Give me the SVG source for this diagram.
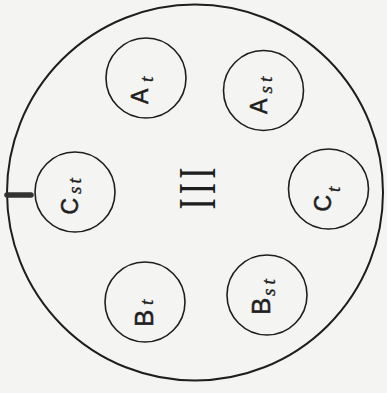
<svg xmlns="http://www.w3.org/2000/svg" width="387" height="393" viewBox="0 0 387 393">
<style>
.ring{fill:none;stroke:#1e1e1e;stroke-width:1.6}
.outer{fill:none;stroke:#1e1e1e;stroke-width:2}
.big{font-family:"Liberation Sans",Arial,sans-serif;fill:#1e1e1e;stroke:#1e1e1e;stroke-width:0.5}
.sub{font-family:"Liberation Serif","Times New Roman",serif;font-style:italic;font-size:19px;fill:#1e1e1e;stroke:#1e1e1e;stroke-width:0.4}
.roman{font-family:"Liberation Serif","Times New Roman",serif;font-size:34px;fill:#1e1e1e}
</style>
<rect x="0" y="0" width="387" height="393" fill="#f4f4f2"/>
<g id="housing">
<circle class="outer" cx="195" cy="192.5" r="188"/>
<line x1="7" y1="195" x2="31" y2="195" stroke="#333" stroke-width="5.5" stroke-linecap="round"/>
</g>
<g id="connectors"></g>
<g id="node-At" transform="translate(146,78)">
<circle class="ring" r="40"/>
<text transform="rotate(-90)"><tspan class="big" font-size="23" x="-26" y="2">A</tspan><tspan class="sub" x="-4" y="7">t</tspan></text>
</g>
<g id="node-Ast" transform="translate(263.5,90.5)">
<circle class="ring" r="40"/>
<text transform="rotate(-90)"><tspan class="big" font-size="23" x="-23.5" y="3.5">A</tspan><tspan class="sub" x="-3" y="8.5" letter-spacing="4">st</tspan></text>
</g>
<g id="node-Cst" transform="translate(75,192)">
<circle class="ring" r="40"/>
<text transform="rotate(-90)"><tspan class="big" font-size="23" x="-22.5" y="2.5">C</tspan><tspan class="sub" x="-2" y="6" letter-spacing="3">st</tspan></text>
</g>
<g id="node-Ct" transform="translate(328.5,189)">
<circle class="ring" r="40"/>
<text transform="rotate(-90)"><tspan class="big" font-size="23" x="-22.5" y="2.5">C</tspan><tspan class="sub" x="-3" y="11">t</tspan></text>
</g>
<g id="node-Bt" transform="translate(145,302)">
<circle class="ring" r="40"/>
<text transform="rotate(-90)"><tspan class="big" font-size="26" x="-25" y="8">B</tspan><tspan class="sub" x="-3" y="8">t</tspan></text>
</g>
<g id="node-Bst" transform="translate(267,295)">
<circle class="ring" r="40"/>
<text transform="rotate(-90)"><tspan class="big" font-size="26" x="-20" y="3">B</tspan><tspan class="sub" x="-1" y="8" letter-spacing="4">st</tspan></text>
</g>
<g id="label-III" transform="translate(196.5,188)">
<text class="roman" transform="rotate(-90) scale(1,1.55)" x="1.5" y="11.9" text-anchor="middle" letter-spacing="4">III</text>
</g>
</svg>
